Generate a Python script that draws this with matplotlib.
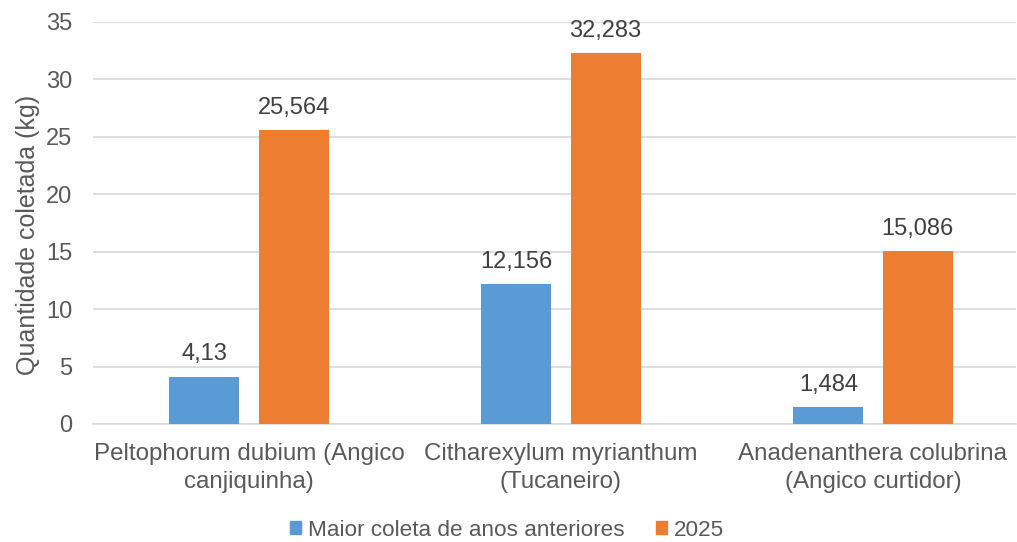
import numpy as np
import matplotlib.pyplot as plt
from matplotlib.patches import Patch

categorias = ['Peltophorum dubium (Angico\ncanjiquinha)',
              'Citharexylum myrianthum\n(Tucaneiro)',
              'Anadenanthera colubrina\n(Angico curtidor)']
anteriores = [4.13, 12.156, 1.484]
ano_2025 = [25.564, 32.283, 15.086]
rotulos_ant = ['4,13', '12,156', '1,484']
rotulos_2025 = ['25,564', '32,283', '15,086']
series = ['Maior coleta de anos anteriores', '2025']

azul = '#5B9BD5'
laranja = '#ED7D31'
cinza = '#595959'

plt.rcParams['font.family'] = ['Liberation Sans', 'DejaVu Sans']

fig = plt.figure(figsize=(10.17, 5.42), dpi=100)
ax = fig.add_axes([93/1017, 1-424/542, (1016-93)/1017, (424-22)/542])

x = np.arange(len(categorias))
w = 0.224
off = 0.143
b1 = ax.bar(x - off, anteriores, w, color=azul, zorder=3)
b2 = ax.bar(x + off, ano_2025, w, color=laranja, zorder=3)

for bars, labs in ((b1, rotulos_ant), (b2, rotulos_2025)):
    for b, t in zip(bars, labs):
        ax.annotate(t, (b.get_x() + b.get_width()/2, b.get_height()),
                    xytext=(0, 8), textcoords='offset points',
                    ha='center', va='bottom', fontsize=17, color='#404040')

ax.set_ylim(0, 35)
ax.set_xlim(-0.5, -0.5 + (1016-93)/312)
ax.set_yticks(range(0, 36, 5))
ax.set_xticks(x)
ax.set_xticklabels(categorias, fontsize=17.4, color=cinza, linespacing=1.3)
ax.tick_params(axis='y', labelsize=17, labelcolor=cinza, length=0, pad=15)
ax.tick_params(axis='x', length=0, pad=14)
ax.grid(axis='y', color='#D9D9D9', linewidth=1.2, zorder=0)
for s in ['top', 'right', 'left']:
    ax.spines[s].set_visible(False)
ax.spines['bottom'].set_color('#D9D9D9')
ax.spines['bottom'].set_linewidth(1.2)
ax.set_ylabel('Quantidade coletada (kg)', fontsize=18, color=cinza)
ax.yaxis.set_label_coords(-53/923, 1 - (235-22)/402)

handles = [Patch(color=azul), Patch(color=laranja)]
fig.legend(handles, series, loc='center', bbox_to_anchor=(507/1017, 1-530/542),
           ncol=2, frameon=False, fontsize=16.2, labelcolor=cinza,
           handlelength=0.5, handleheight=0.5, handletextpad=0.3, columnspacing=1.4)

fig.savefig('out.png', dpi=100)
